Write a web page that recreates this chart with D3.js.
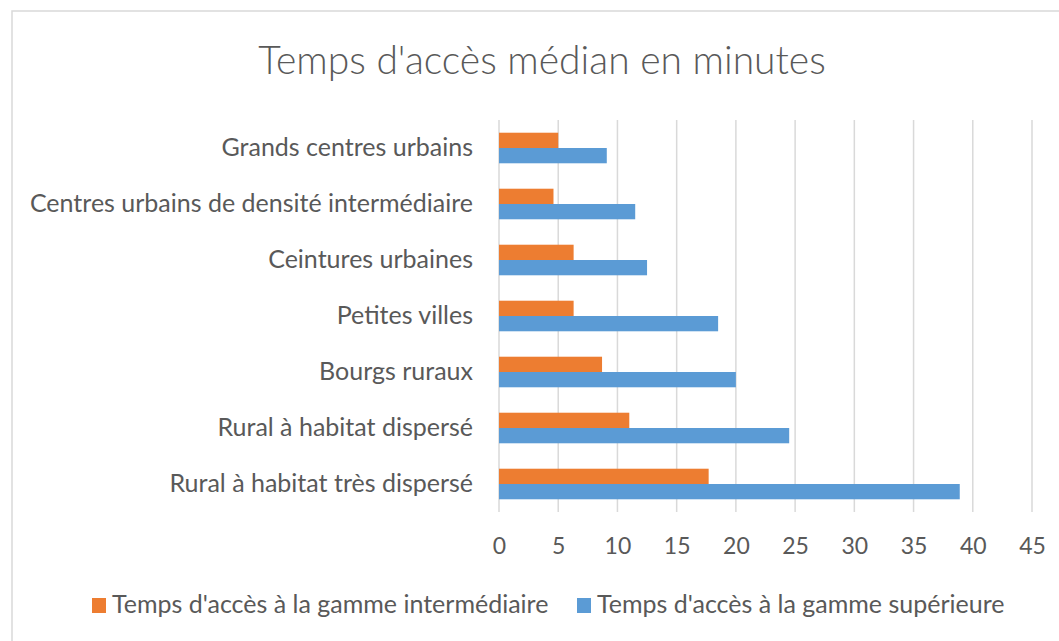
<!DOCTYPE html>
<html>
<head>
<meta charset="utf-8">
<script src="https://cdn.jsdelivr.net/npm/d3@7"></script>
<style>
  body { margin: 0; background: #fff; }
  text { font-family: Lato, "Open Sans", sans-serif; fill: #595959; }
</style>
</head>
<body>
<svg width="1059" height="641"></svg>
<script>
// categories, top to bottom as shown
const categories = [
    "Grands centres urbains",
    "Centres urbains de densité intermédiaire",
    "Ceintures urbaines",
    "Petites villes",
    "Bourgs ruraux",
    "Rural à habitat dispersé",
    "Rural à habitat très dispersé"
]
const seriesNames = ["Temps d'accès à la gamme intermédiaire", "Temps d'accès à la gamme supérieure"]
const intermediaire = [5.0, 4.6, 6.3, 6.3, 8.7, 11.0, 17.7]
const superieure = [9.1, 11.5, 12.5, 18.5, 20.0, 24.5, 38.9]
const xTicks = [0, 5, 10, 15, 20, 25, 30, 35, 40, 45]
const colours = ["#ED7D31", "#5B9BD5"]

let svg = d3.select("svg")

// chart frame
svg.append("rect")
    .attr("x", 12).attr("y", 11)
    .attr("width", 1100).attr("height", 700)
    .attr("fill", "#fff")
    .attr("stroke", "#d9d9d9")
    .attr("stroke-width", 1.5)

svg.append("text")
    .attr("x", 542).attr("y", 74)
    .attr("text-anchor", "middle")
    .style("font-size", "39px")
    .style("font-weight", 300)
    .text("Temps d'accès médian en minutes")

let x = d3.scaleLinear().domain([0, 45]).range([499, 1032])
let y = d3.scaleBand().domain(categories).range([120, 512]).paddingInner(0.454).paddingOuter(0.227)
let ySub = d3.scaleBand().domain([0, 1]).range([0, y.bandwidth()])

// gridlines
svg.append("g")
    .selectAll("line")
    .data(xTicks)
    .enter().append("line")
    .attr("x1", d => x(d)).attr("x2", d => x(d))
    .attr("y1", 120).attr("y2", 512)
    .attr("stroke", "#d9d9d9")
    .attr("stroke-width", 1.5)

// bars
let rows = categories.map((c, i) => ({cat: c, values: [intermediaire[i], superieure[i]]}))
let group = svg.append("g")
    .selectAll("g")
    .data(rows)
    .enter().append("g")
    .attr("transform", d => "translate(0," + y(d.cat) + ")")

group.selectAll("rect")
    .data(d => d.values.map((v, k) => ({v: v, k: k})))
    .enter().append("rect")
    .attr("x", x(0))
    .attr("y", d => ySub(d.k))
    .attr("width", d => x(d.v) - x(0))
    .attr("height", ySub.bandwidth())
    .attr("fill", d => colours[d.k])

// x axis labels
let xAxis = svg.append("g")
    .attr("transform", "translate(0,512)")
    .call(d3.axisBottom(x).tickValues(xTicks).tickSize(0).tickPadding(26))
xAxis.select(".domain").remove()
xAxis.selectAll("text").style("font-size", "23px").attr("fill", "#595959")

// category labels
let yAxis = svg.append("g")
    .attr("transform", "translate(499,0)")
    .call(d3.axisLeft(y).tickSize(0).tickPadding(26))
yAxis.select(".domain").remove()
yAxis.selectAll("text").style("font-size", "25px").attr("fill", "#595959")

// legend
let legendX = [92, 577]
let legend = svg.append("g")
    .selectAll("g")
    .data(seriesNames)
    .enter().append("g")
    .attr("transform", (d, i) => "translate(" + legendX[i] + ",598)")
legend.append("rect")
    .attr("width", 14).attr("height", 15)
    .attr("fill", (d, i) => colours[i])
legend.append("text")
    .attr("x", 20).attr("y", 15)
    .style("font-size", "25px")
    .text(d => d)
</script>
</body>
</html>
